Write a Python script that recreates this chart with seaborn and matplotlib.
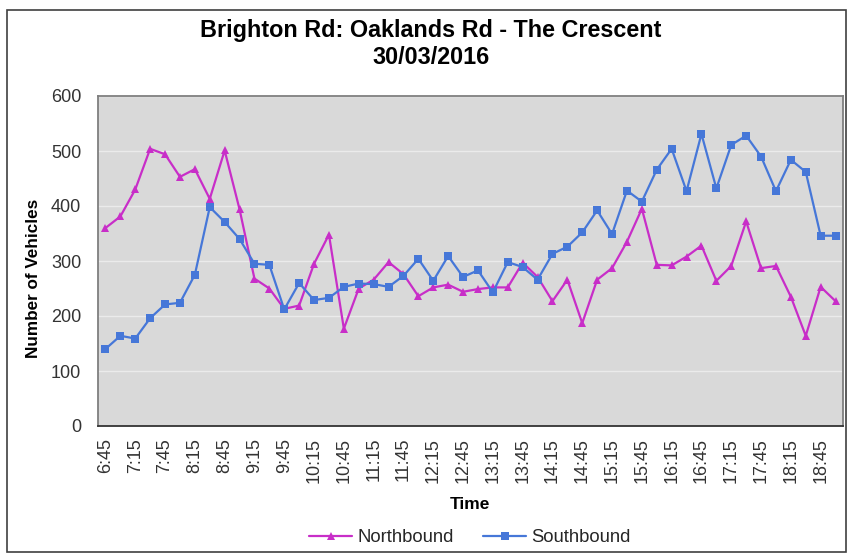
import pandas as pd
import matplotlib.pyplot as plt
import seaborn as sns
from matplotlib.patches import Rectangle

# ================= data =================
TIMES = [
    "6:45", "7:00", "7:15", "7:30", "7:45", "8:00", "8:15", "8:30", "8:45", "9:00",
    "9:15", "9:30", "9:45", "10:00", "10:15", "10:30", "10:45", "11:00", "11:15", "11:30",
    "11:45", "12:00", "12:15", "12:30", "12:45", "13:00", "13:15", "13:30", "13:45", "14:00",
    "14:15", "14:30", "14:45", "15:00", "15:15", "15:30", "15:45", "16:00", "16:15", "16:30",
    "16:45", "17:00", "17:15", "17:30", "17:45", "18:00", "18:15", "18:30", "18:45", "19:00",
]
NORTHBOUND = [
    360, 381, 430, 504, 494, 453, 467, 413, 501, 394,
    268, 250, 213, 219, 295, 348, 177, 250, 266, 298,
    276, 236, 252, 257, 244, 249, 252, 252, 297, 271,
    227, 266, 187, 266, 287, 335, 395, 293, 292, 308,
    328, 264, 291, 372, 287, 291, 235, 164, 253, 227,
]
SOUTHBOUND = [
    140, 164, 159, 196, 221, 224, 275, 398, 371, 340,
    295, 293, 212, 260, 229, 233, 253, 259, 258, 253,
    273, 304, 264, 309, 271, 283, 243, 298, 289, 266,
    313, 326, 352, 392, 349, 428, 408, 466, 504, 427,
    531, 432, 511, 528, 490, 427, 484, 462, 346, 346,
]
SERIES = ["Northbound", "Southbound"]
COLORS = {"Northbound": "#C82EC8", "Southbound": "#4677D8"}
MARKERS = {"Northbound": "^", "Southbound": "s"}

TITLE = "Brighton Rd: Oaklands Rd - The Crescent"
SUBTITLE = "30/03/2016"

# ================= style =================
sns.set_style("white")
plt.rcParams["font.family"] = ["Liberation Sans", "DejaVu Sans"]

df = pd.DataFrame({
    "time": TIMES * 2,
    "vehicles": NORTHBOUND + SOUTHBOUND,
    "direction": ["Northbound"] * len(TIMES) + ["Southbound"] * len(TIMES),
})

fig = plt.figure(figsize=(8.47, 5.54), dpi=100)
ax = fig.add_axes([98 / 847, 1 - 426 / 554, (843 - 98) / 847, (426 - 96) / 554])
ax.set_facecolor("#D9D9D9")

sns.lineplot(
    data=df, x="time", y="vehicles", hue="direction", style="direction",
    hue_order=SERIES, style_order=SERIES, palette=COLORS, markers=MARKERS,
    dashes=False, sort=False, linewidth=1.6, markersize=6,
    markeredgewidth=0, ax=ax,
)

# axes
ax.set_ylim(0, 600)
ax.set_yticks(range(0, 601, 100))
ax.yaxis.grid(True, color="#EBEBEB", linewidth=1.0)
ax.set_axisbelow(True)
ax.set_xlim(-0.5, len(TIMES) - 0.5)
ax.set_xticks(range(0, len(TIMES), 2))
ax.set_xticklabels(TIMES[::2], rotation=90)
ax.set_xticks([i - 0.5 for i in range(len(TIMES) + 1)], minor=True)
ax.tick_params(axis="x", which="major", length=0, pad=8.5, labelsize=13, labelcolor="#333333")
ax.tick_params(axis="x", which="minor", length=5, width=1, color="#333333", direction="out")
ax.tick_params(axis="y", length=0, pad=12, labelsize=13, labelcolor="#333333")
for name, sp in ax.spines.items():
    sp.set_color("#7F7F7F")
    sp.set_linewidth(1.3)
ax.spines["bottom"].set_color("#333333")

ax.set_xlabel("Time", fontsize=12.5, fontweight="bold", color="black")
ax.set_ylabel("Number of Vehicles", fontsize=12.3, fontweight="bold", color="black")
ax.xaxis.set_label_coords((470 - 98) / (843 - 98), -(497 - 426) / (426 - 96))
ax.yaxis.set_label_coords(-(98 - 41) / (843 - 98), 1 - (278 - 96) / (426 - 96))

handles, labels = ax.get_legend_handles_labels()
ax.get_legend().remove()
fig.legend(handles, labels, loc="center", ncol=2, frameon=False,
           bbox_to_anchor=(470 / 847, 1 - 538 / 554), fontsize=13.3,
           handlelength=2.3, columnspacing=1.6, handletextpad=0.3)

fig.text(431 / 847, 1 - 30 / 554, TITLE, ha="center", va="center",
         fontsize=16.8, fontweight="bold", color="black")
fig.text(431 / 847, 1 - 58 / 554, SUBTITLE, ha="center", va="center",
         fontsize=16.8, fontweight="bold", color="black")

# chart frame
fig.patches.append(Rectangle((7 / 847, 2 / 554), 839 / 847, 542 / 554,
                             transform=fig.transFigure, fill=False,
                             edgecolor="#404040", linewidth=1.2))

fig.savefig("out.png", dpi=100)
